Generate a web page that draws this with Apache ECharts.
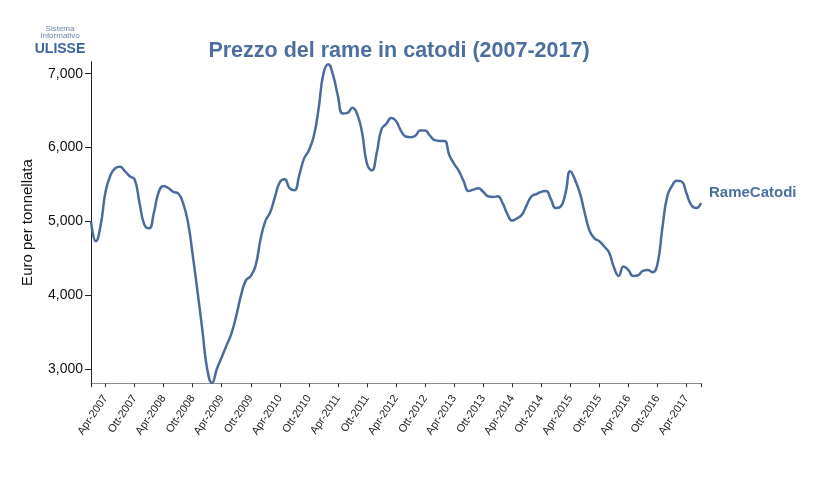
<!DOCTYPE html>
<html>
<head>
<meta charset="utf-8">
<script src="https://cdn.jsdelivr.net/npm/echarts@6/dist/echarts.min.js"></script>
<style>html,body{margin:0;padding:0;background:#fff}#c{width:822px;height:482px}</style>
</head>
<body>
<div id="c"></div>
<script>
var mesi = ['Gen','Feb','Mar','Apr','Mag','Giu','Lug','Ago','Set','Ott','Nov','Dic'];
var startYear = 2007, nMonths = 127; // Gen-2007 .. Lug-2017
var categories = [];
for (var k = 0; k < nMonths; k++) {
  categories.push(mesi[k % 12] + '-' + (startYear + Math.floor(k / 12)));
}
var seriesName = 'RameCatodi';
var rameCatodi = [
  5000,4730,4950,5400,5620,5720,5740,5680,5610,5570,5260,4960,
  4905,5120,5400,5480,5450,5400,5380,5250,5000,4550,4050,3530,
  3000,2810,3000,3160,3320,3480,3720,4000,4200,4260,4400,4750,
  5000,5120,5330,5530,5570,5450,5420,5620,5850,5960,6150,6520,
  7000,7130,6980,6700,6460,6470,6540,6450,6200,5780,5690,5920,
  6250,6320,6400,6360,6230,6150,6140,6160,6230,6230,6160,6100,
  6090,6090,5900,5780,5680,5540,5410,5430,5450,5400,5340,5330,
  5340,5250,5100,5010,5040,5090,5220,5340,5370,5400,5410,5300,
  5180,5200,5380,5680,5560,5380,5110,4870,4770,4730,4660,4580,
  4380,4260,4390,4340,4260,4270,4330,4340,4310,4420,4900,5330,
  5480,5550,5540,5380,5220,5180,5250
];
var yMin = 2806, yMax = 7163;

var blue = '#4a6b9c';
function isLabelMonth(i){ var m = i % 12; return m === 3 || m === 9; }

var chart = echarts.init(document.getElementById('c'));
chart.setOption({
  animation: false,
  backgroundColor: '#fff',
  title: {
    text: 'Prezzo del rame in catodi (2007-2017)',
    left: 394, top: 35, textAlign: 'center',
    textStyle: {color: '#4d6fa0', fontSize: 21.5, fontWeight: 'bold', fontFamily: 'Liberation Sans, Arial, sans-serif'}
  },
  graphic: [
    {type: 'text', style: {text: 'Sistema', x: 60, y: 25, fill: '#6f84aa', fontSize: 8, fontFamily: 'Liberation Sans, Arial', textAlign: 'center'}},
    {type: 'text', style: {text: 'Informativo', x: 60, y: 32, fill: '#6f84aa', fontSize: 8, fontFamily: 'Liberation Sans, Arial', textAlign: 'center'}},
    {type: 'text', style: {text: 'ULISSE', x: 60, y: 42, fill: '#3b64a3', fontSize: 14, fontWeight: 'bold', fontFamily: 'Liberation Sans Narrow, Liberation Sans, Arial', textAlign: 'center'}}
  ],
  grid: {left: 91, right: 121, top: 61.7, bottom: 98.7, containLabel: false},
  xAxis: {
    type: 'category',
    data: categories,
    boundaryGap: false,
    axisLine: {lineStyle: {color: '#8c8c8c', width: 1}},
    axisTick: {
      length: 4,
      lineStyle: {color: '#333'},
      interval: function(i){ return isLabelMonth(i) || i === 0 || i === nMonths - 1; }
    },
    axisLabel: {
      interval: function(i){ return isLabelMonth(i); },
      rotate: 56, fontSize: 11, color: '#222', margin: 13,
      fontFamily: 'Liberation Sans, Arial, sans-serif'
    },
    splitLine: {show: false}
  },
  yAxis: {
    type: 'value',
    min: yMin, max: yMax,
    minInterval: 1000, maxInterval: 1000,
    name: 'Euro per tonnellata',
    nameLocation: 'middle',
    nameGap: 56,
    nameTextStyle: {fontSize: 15, color: '#111', fontFamily: 'Liberation Sans, Arial, sans-serif'},
    axisLine: {show: true, lineStyle: {color: '#222'}},
    axisTick: {show: true, length: 6, lineStyle: {color: '#222'}},
    axisLabel: {
      fontSize: 14, color: '#111', margin: 8, showMinLabel: false, showMaxLabel: false,
      fontFamily: 'Liberation Sans, Arial, sans-serif',
      formatter: function(v){ return (v % 1000 === 0) ? echarts.format.addCommas(v) : ''; }
    },
    splitLine: {show: false}
  },
  series: [{
    name: seriesName,
    type: 'line',
    data: rameCatodi,
    smooth: 0.5,
    showSymbol: false,
    symbol: 'none',
    lineStyle: {color: blue, width: 2.5},
    endLabel: {
      show: true,
      formatter: seriesName,
      color: '#4d6fa0', fontSize: 15, fontWeight: 'bold',
      fontFamily: 'Liberation Sans, Arial, sans-serif',
      distance: 8, offset: [0, -10]
    }
  }]
});
</script>
</body>
</html>
